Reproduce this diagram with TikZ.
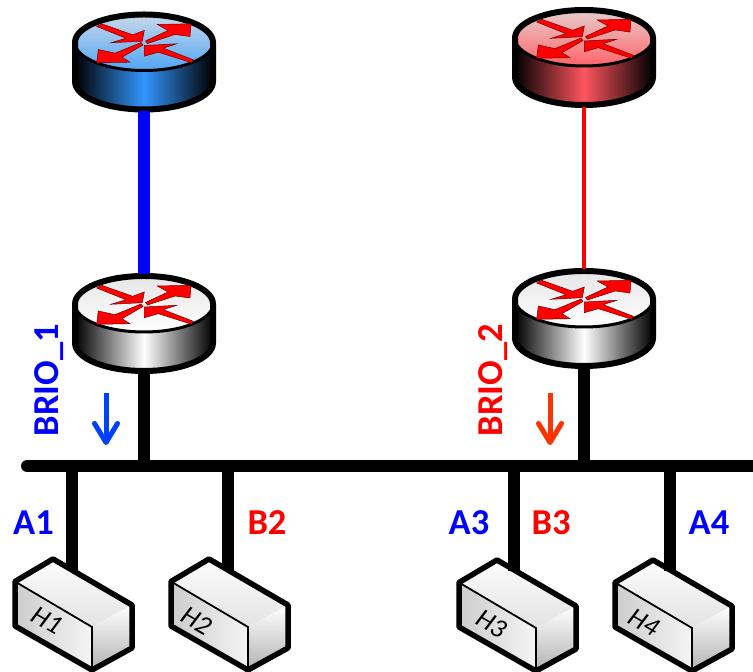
\documentclass[tikz,border=0pt]{standalone}
\usepackage{fontspec}
\setmainfont{Carlito}
\usetikzlibrary{arrows.meta}

\definecolor{lidblueA}{RGB}{200,216,232}
\definecolor{lidblueB}{RGB}{80,165,245}
\definecolor{sideblue}{RGB}{50,150,255}
\definecolor{lidredA}{RGB}{230,205,205}
\definecolor{lidredB}{RGB}{255,100,105}
\definecolor{sidered}{RGB}{255,85,95}
\definecolor{flowblue}{RGB}{0,64,255}
\definecolor{flowred}{RGB}{255,51,0}

\tikzset{
  lidarrow/.style={fill=red,draw=red!45!black,line width=.5pt,line join=miter},
  pics/router/.style n args={3}{code={
    % side, then top
    \shade[left color=black,right color=black,middle color=#3]
      (-69,0) -- (-69,-39) arc[start angle=180,end angle=360,x radius=69,y radius=28] -- (69,0) -- cycle;
    \shade[top color=#1,bottom color=#2] (0,0) ellipse[x radius=69,y radius=28];
    \draw[line width=3pt] (0,0) ellipse[x radius=69,y radius=28];
    \draw[line width=6pt,line join=round]
      (-69,0) arc[start angle=180,end angle=0,x radius=69,y radius=28]
      -- (69,-39) arc[start angle=360,end angle=180,x radius=69,y radius=28] -- cycle;
    % the four arrows on the lid
    \filldraw[lidarrow] (-47.3,16) -- (-42.3,18.7) -- (-11.3,7.7) -- (0.3,12) -- (-1.7,1.3) -- (-33,-0.3) -- (-18,4.3) -- cycle;
    \filldraw[lidarrow] (1.5,1.5) -- (24,12) -- (13.3,18) -- (47,18.7) -- (46,6) -- (31,8) -- (3.5,-1) -- cycle;
    \filldraw[lidarrow] (-1,-2.5) -- (-22,-14.7) -- (-14,-19.7) -- (-47.3,-20.3) -- (-45.7,-7) -- (-29,-10.7) -- (-3,0) -- cycle;
    \filldraw[lidarrow] (47.7,-20.3) -- (49.3,-17.3) -- (19.3,-5.7) -- (32.7,-1.3) -- (0.3,-3) -- (0.3,-13.7) -- (14.3,-9.7) -- cycle;
    \coordinate (-top) at (0,30);
    \coordinate (-bot) at (0,-69);
  }},
  pics/hostbox/.style={code={
    \shade[shading angle=60,top color=gray!2,bottom color=gray!22] (0,0) -- (38,22.5) -- (117,-23.5) -- (77,-45.5) -- cycle;
    \shade[left color=gray!40,right color=gray!8] (0,0) -- (77,-45.5) -- (77,-88.5) -- (0,-44.5) -- cycle;
    \shade[shading angle=150,top color=white,bottom color=gray!60] (77,-45.5) -- (117,-23.5) -- (117,-66.5) -- (77,-88.5) -- cycle;
    \draw[line width=1.8pt] (0,0) -- (77,-45.5) -- (77,-88.5);
    \draw[line width=5.5pt,line join=round]
      (0,0) -- (38,22.5) -- (117,-23.5) -- (117,-66.5) -- (77,-88.5) -- (0,-44.5) -- cycle;
    \coordinate (-top) at (57,11);
  }}
}

\begin{document}
\begin{tikzpicture}[x=1pt,y=1pt,
    wire/.style={line width=12pt},
    label/.style={font=\bfseries\fontsize{36.5}{36.5}\selectfont,inner sep=0pt},
    hostname/.style={rotate=-30,inner sep=0pt,font=\itshape\fontsize{27}{27}\selectfont},
    flow/.style={line width=5pt,-{Straight Barb[length=19pt,width=23pt,round]},
      preaction={draw=black,opacity=.12,transform canvas={xshift=1pt,yshift=-3pt}}}]
   \useasboundingbox (0,0) rectangle (753,672);

   \coordinate (busL) at (27,206);
   \coordinate (busR) at (753,206);
   \coordinate (T1) at (72,206);
   \coordinate (T2) at (228,206);
   \coordinate (T3) at (514,206);
   \coordinate (T4) at (670,206);

   \pic (R1) at (144,629.5) {router={lidblueA}{lidblueB}{sideblue}};
   \pic (R2) at (584,634) {router={lidredA}{lidredB}{sidered}};
   \pic (S1) at (144,368) {router={gray!20}{white}{white}};
   \pic (S2) at (584,373) {router={gray!20}{white}{white}};

   \pic (H1) at (15,90.5) {hostbox};
   \pic (H2) at (171,90.5) {hostbox};
   \pic (H3) at (459,89.5) {hostbox};
   \pic (H4) at (615,89.5) {hostbox};

   \node[hostname] (H1name) at (47,51.4) {H1};
   \node[hostname] (H2name) at (197,51.3) {H2};
   \node[hostname] (H3name) at (491.7,48) {H3};
   \node[hostname] (H4name) at (644,49.3) {H4};

   \draw[line width=12pt,line cap=round] (busL) -- (busR);
   \draw[wire,blue] (R1-bot) -- (S1-top);
   \draw[line width=4.5pt,red] (R2-bot) -- (S2-top);
   \draw[wire] (S1-bot) -- (S1-bot |- busL);
   \draw[wire] (S2-bot) -- (S2-bot |- busL);
   \draw[wire] (T1) -- (T1 |- H1-top);
   \draw[wire] (T2) -- (T2 |- H2-top);
   \draw[wire] (T3) -- (T3 |- H3-top);
   \draw[wire] (T4) -- (T4 |- H4-top);

   \node[label,blue,rotate=90] (brioA) at (49,292) {BRIO\_1};
   \node[label,red,rotate=90] (brioB) at (493,292) {BRIO\_2};
   \node[label,blue] (A1) at (33.5,149) {A1};
   \node[label,red] (B2) at (267,149) {B2};
   \node[label,blue] (A3) at (469,149) {A3};
   \node[label,red] (B3) at (551,149) {B3};
   \node[label,blue] (A4) at (709,149) {A4};

   \coordinate (flowA) at (106,279);
   \coordinate (flowAend) at (106,227);
   \coordinate (flowB) at (550,279);
   \coordinate (flowBend) at (550,227);
   \draw[flow,flowblue] (flowA) -- (flowAend);
   \draw[flow,flowred] (flowB) -- (flowBend);
\end{tikzpicture}
\end{document}
